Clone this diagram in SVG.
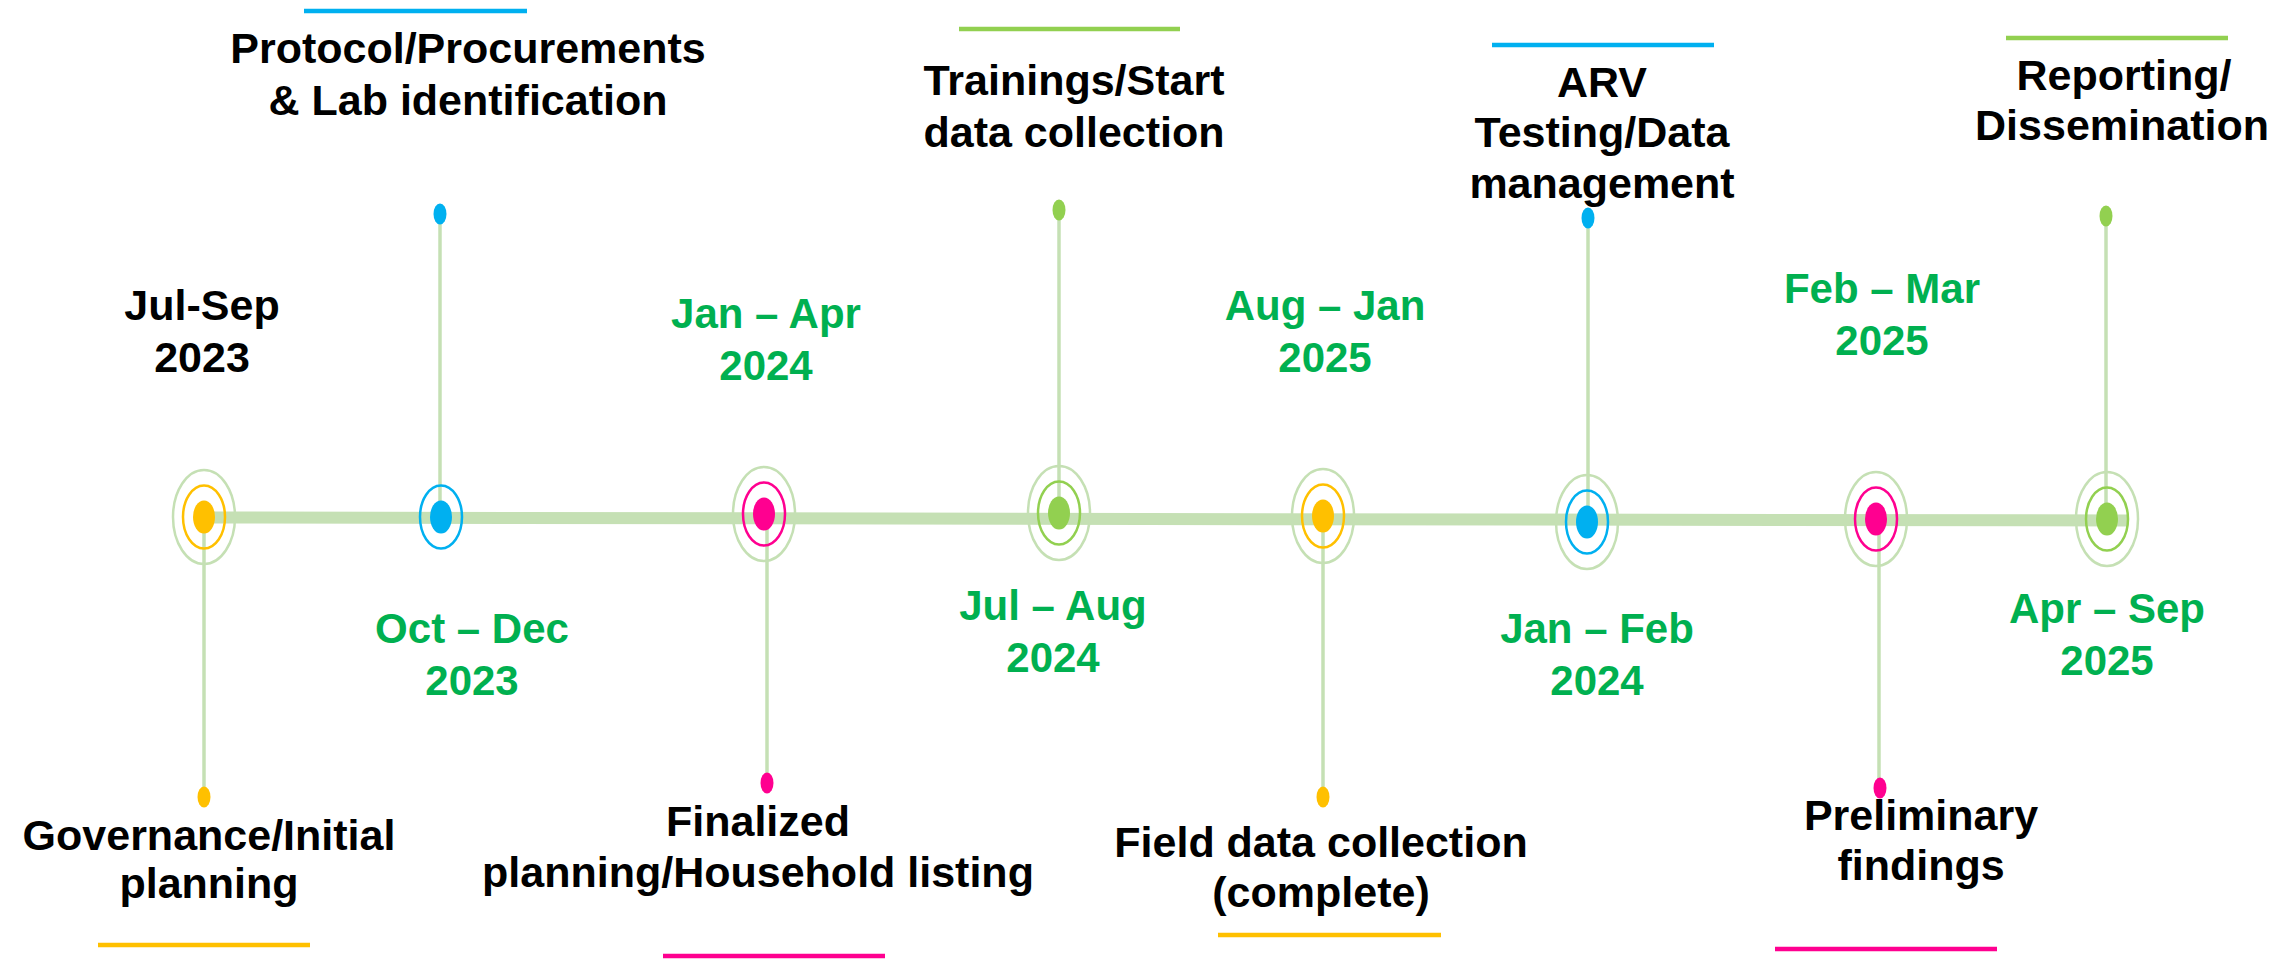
<svg xmlns="http://www.w3.org/2000/svg" width="2295" height="959" viewBox="0 0 2295 959">
<style>
.t{font-family:"Liberation Sans",Arial,sans-serif;font-weight:bold;font-size:43px;text-anchor:middle;fill:#000}
.d{font-family:"Liberation Sans",Arial,sans-serif;font-weight:bold;font-size:42px;text-anchor:middle;fill:#00B050}
.stem{stroke:#C5E0B4;stroke-width:3.5;fill:none}
.outer{fill:none;stroke:#C5E0B4;stroke-width:2.5}
.bar{stroke-width:4.5;fill:none}
.y{fill:#FFC000}.b{fill:#00B0F0}.p{fill:#FF0090}.g{fill:#92D050}
.ry{fill:none;stroke:#FFC000;stroke-width:2.5}
.rb{fill:none;stroke:#00B0F0;stroke-width:2.5}
.rp{fill:none;stroke:#FF0090;stroke-width:2.5}
.rg{fill:none;stroke:#92D050;stroke-width:2.5}
</style>
<rect width="2295" height="959" fill="#fff"/>
<g id="connectors">
<line x1="204" y1="517.5" x2="2127" y2="520.5" stroke="#C5E0B4" stroke-width="12"/>
<line class="stem" x1="204" y1="517" x2="204" y2="797"/>
<line class="stem" x1="440" y1="214" x2="440" y2="517"/>
<line class="stem" x1="767" y1="514" x2="767" y2="783"/>
<line class="stem" x1="1059" y1="210" x2="1059" y2="513"/>
<line class="stem" x1="1323" y1="516" x2="1323" y2="797"/>
<line class="stem" x1="1588" y1="218" x2="1588" y2="522"/>
<line class="stem" x1="1879" y1="519" x2="1879" y2="788"/>
<line class="stem" x1="2106" y1="216" x2="2106" y2="519"/>
</g>
<g id="node1">
<ellipse class="outer" cx="204" cy="517" rx="31" ry="47"/>
<ellipse class="ry" cx="204" cy="517" rx="21" ry="31.5"/>
<ellipse class="y" cx="204" cy="517" rx="11" ry="16.5"/>
<ellipse class="y" cx="204" cy="797" rx="6.5" ry="10.5"/>
<text class="t" x="209" y="850">Governance/Initial</text>
<text class="t" x="209" y="898">planning</text>
<line class="bar" x1="98" y1="945" x2="310" y2="945" stroke="#FFC000"/>
<text class="t" x="202" y="320">Jul-Sep</text>
<text class="t" x="202" y="372">2023</text>
</g>
<g id="node2">
<ellipse class="rb" cx="441" cy="517" rx="21" ry="31.5"/>
<ellipse class="b" cx="441" cy="517" rx="11" ry="16.5"/>
<ellipse class="b" cx="440" cy="214" rx="6.5" ry="10.5"/>
<text class="t" x="468" y="63">Protocol/Procurements</text>
<text class="t" x="468" y="115">&amp; Lab identification</text>
<line class="bar" x1="304" y1="11" x2="527" y2="11" stroke="#00B0F0"/>
<text class="d" x="472" y="643">Oct – Dec</text>
<text class="d" x="472" y="695">2023</text>
</g>
<g id="node3">
<ellipse class="outer" cx="764" cy="514" rx="31" ry="47"/>
<ellipse class="rp" cx="764" cy="514" rx="21" ry="31.5"/>
<ellipse class="p" cx="764" cy="514" rx="11" ry="16.5"/>
<ellipse class="p" cx="767" cy="783" rx="6.5" ry="10.5"/>
<text class="t" x="758" y="836">Finalized</text>
<text class="t" x="758" y="887">planning/Household listing</text>
<line class="bar" x1="663" y1="956" x2="885" y2="956" stroke="#FF0090"/>
<text class="d" x="766" y="328">Jan – Apr</text>
<text class="d" x="766" y="380">2024</text>
</g>
<g id="node4">
<ellipse class="outer" cx="1059" cy="513" rx="31" ry="47"/>
<ellipse class="rg" cx="1059" cy="513" rx="21" ry="31.5"/>
<ellipse class="g" cx="1059" cy="513" rx="11" ry="16.5"/>
<ellipse class="g" cx="1059" cy="210" rx="6.5" ry="10.5"/>
<text class="t" x="1074" y="95">Trainings/Start</text>
<text class="t" x="1074" y="147">data collection</text>
<line class="bar" x1="959" y1="29" x2="1180" y2="29" stroke="#92D050"/>
<text class="d" x="1053" y="620">Jul – Aug</text>
<text class="d" x="1053" y="672">2024</text>
</g>
<g id="node5">
<ellipse class="outer" cx="1323" cy="516" rx="31" ry="47"/>
<ellipse class="ry" cx="1323" cy="516" rx="21" ry="31.5"/>
<ellipse class="y" cx="1323" cy="516" rx="11" ry="16.5"/>
<ellipse class="y" cx="1323" cy="797" rx="6.5" ry="10.5"/>
<text class="t" x="1321" y="857">Field data collection</text>
<text class="t" x="1321" y="907">(complete)</text>
<line class="bar" x1="1218" y1="935" x2="1441" y2="935" stroke="#FFC000"/>
<text class="d" x="1325" y="320">Aug – Jan</text>
<text class="d" x="1325" y="372">2025</text>
</g>
<g id="node6">
<ellipse class="outer" cx="1587" cy="522" rx="31" ry="47"/>
<ellipse class="rb" cx="1587" cy="522" rx="21" ry="31.5"/>
<ellipse class="b" cx="1587" cy="522" rx="11" ry="16.5"/>
<ellipse class="b" cx="1588" cy="218" rx="6.5" ry="10.5"/>
<text class="t" x="1602" y="97">ARV</text>
<text class="t" x="1602" y="147">Testing/Data</text>
<text class="t" x="1602" y="198">management</text>
<line class="bar" x1="1492" y1="45" x2="1714" y2="45" stroke="#00B0F0"/>
<text class="d" x="1597" y="643">Jan – Feb</text>
<text class="d" x="1597" y="695">2024</text>
</g>
<g id="node7">
<ellipse class="outer" cx="1876" cy="519" rx="31" ry="47"/>
<ellipse class="rp" cx="1876" cy="519" rx="21" ry="31.5"/>
<ellipse class="p" cx="1876" cy="519" rx="11" ry="16.5"/>
<ellipse class="p" cx="1880" cy="788" rx="6.5" ry="10.5"/>
<text class="t" x="1921" y="830">Preliminary</text>
<text class="t" x="1921" y="880">findings</text>
<line class="bar" x1="1775" y1="949" x2="1997" y2="949" stroke="#FF0090"/>
<text class="d" x="1882" y="303">Feb – Mar</text>
<text class="d" x="1882" y="355">2025</text>
</g>
<g id="node8">
<ellipse class="outer" cx="2107" cy="519" rx="31" ry="47"/>
<ellipse class="rg" cx="2107" cy="519" rx="21" ry="31.5"/>
<ellipse class="g" cx="2107" cy="519" rx="11" ry="16.5"/>
<ellipse class="g" cx="2106" cy="216" rx="6.5" ry="10.5"/>
<text class="t" x="2124" y="90">Reporting/</text>
<text class="t" x="2122" y="140">Dissemination</text>
<line class="bar" x1="2006" y1="38" x2="2228" y2="38" stroke="#92D050"/>
<text class="d" x="2107" y="623">Apr – Sep</text>
<text class="d" x="2107" y="675">2025</text>
</g>
</svg>
